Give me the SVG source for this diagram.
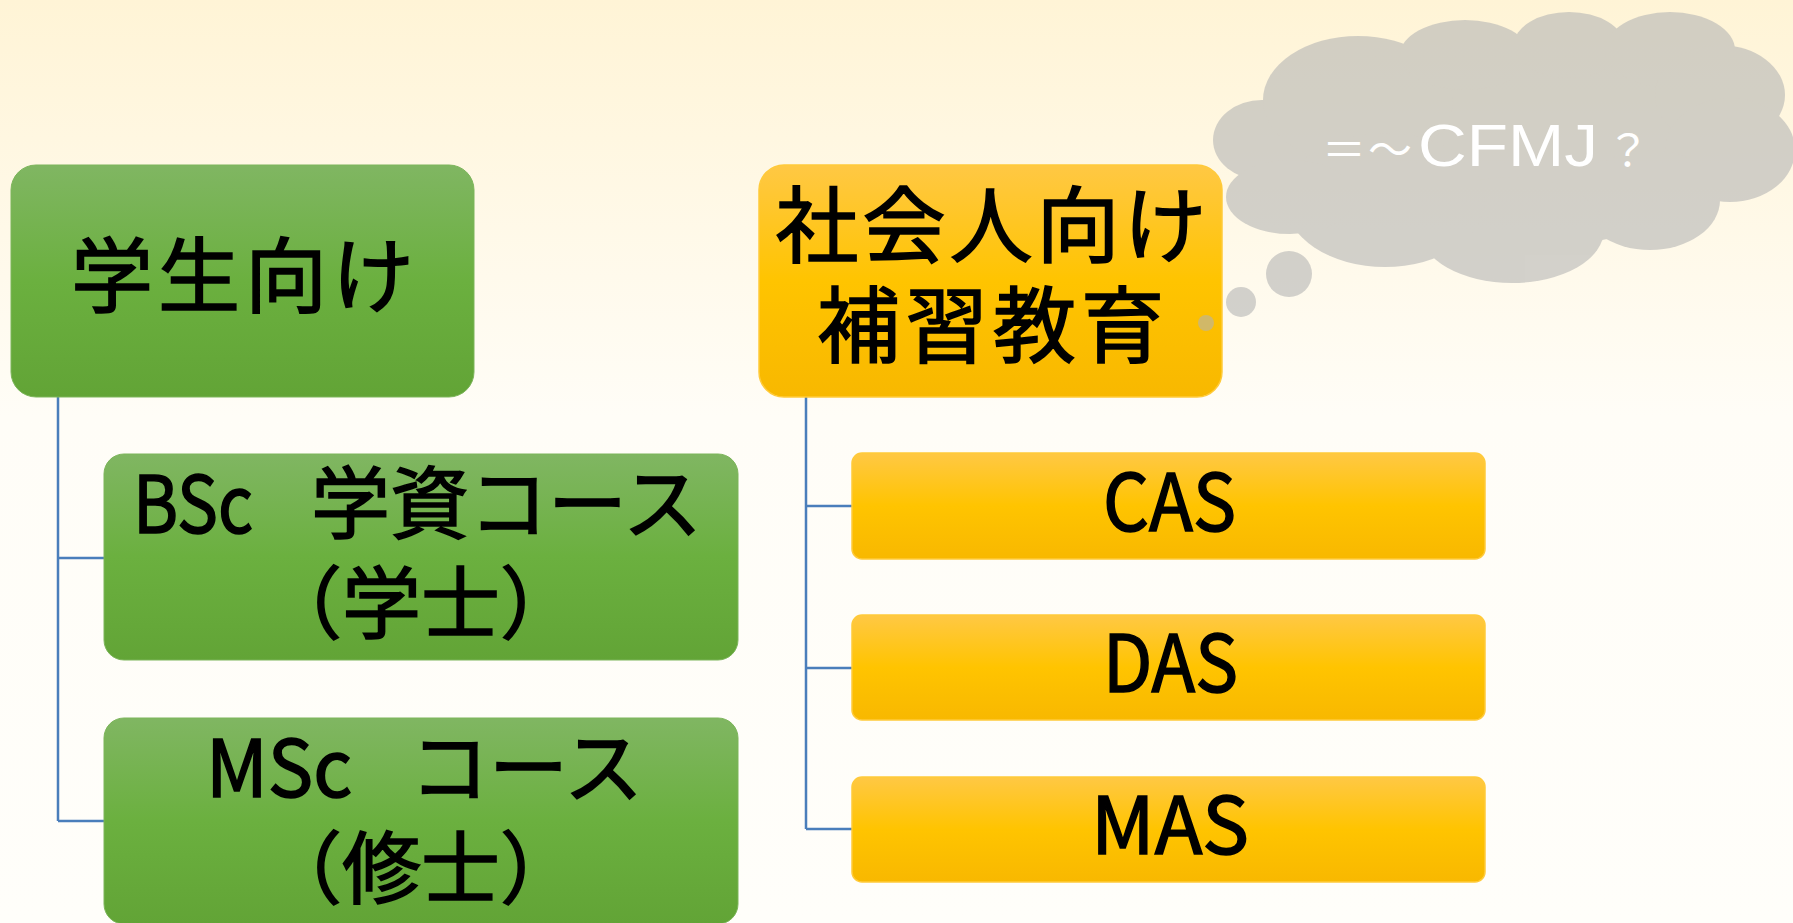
<svg xmlns="http://www.w3.org/2000/svg" width="1793" height="923" viewBox="0 0 1793 923">
<defs>
<linearGradient id="bg" x1="0" y1="0" x2="0" y2="1">
<stop offset="0" stop-color="#fff4d6"/>
<stop offset="0.45" stop-color="#fffdf7"/>
<stop offset="1" stop-color="#fffefa"/>
</linearGradient>
<linearGradient id="gGreen" x1="0" y1="0" x2="0" y2="1">
<stop offset="0" stop-color="#80b662"/>
<stop offset="0.5" stop-color="#6bb03f"/>
<stop offset="1" stop-color="#62a436"/>
</linearGradient>
<linearGradient id="gYellow" x1="0" y1="0" x2="0" y2="1">
<stop offset="0" stop-color="#ffc844"/>
<stop offset="0.5" stop-color="#ffc400"/>
<stop offset="1" stop-color="#f8b800"/>
</linearGradient>
<style>
.green{fill:url(#gGreen);stroke:#7cb55a;stroke-width:1}
.yellow{fill:url(#gYellow);stroke:#ffca3a;stroke-width:1.5}
.lbl{font-family:"Noto Sans CJK JP","Noto Sans",sans-serif;fill:#000;stroke:#000;stroke-width:1.6;text-anchor:middle}
.st{text-anchor:start}
.conn{fill:none;stroke:#4a7ebb;stroke-width:2.5}
.cloud{fill:#b3b3b3}
.ctext{fill:#fff;font-family:"Liberation Sans","Noto Sans CJK JP",sans-serif}
</style>
</defs>
<rect x="0" y="0" width="1793" height="923" fill="url(#bg)"/>

<g id="connectors">
<path class="conn" d="M58 397 V821 M58 558 H104 M58 821 H104"/>
<path class="conn" d="M806 397 V829 M806 506 H852 M806 668 H852 M806 829 H852"/>
</g>

<g id="node-students">
<rect class="green" x="11" y="165" width="463" height="232" rx="25"/>
<text class="lbl" x="245" y="306" font-size="82" letter-spacing="5">学生向け</text>
</g>

<g id="node-bsc">
<rect class="green" x="104" y="454" width="634" height="206" rx="20"/>
<text class="lbl st" x="133" y="533" font-size="79" textLength="120" lengthAdjust="spacingAndGlyphs">BSc</text>
<text class="lbl" font-size="79"><tspan x="311" y="533" text-anchor="start">学資コース</tspan><tspan x="421" y="633" text-anchor="middle">（学士）</tspan></text>
</g>

<g id="node-msc">
<rect class="green" x="104" y="718" width="634" height="206" rx="20"/>
<text class="lbl st" x="206" y="797" font-size="79" textLength="146" lengthAdjust="spacingAndGlyphs">MSc</text>
<text class="lbl" font-size="79"><tspan x="410" y="797" text-anchor="start">コース</tspan><tspan x="421" y="898" text-anchor="middle">（修士）</tspan></text>
</g>

<g id="node-adult">
<rect class="yellow" x="759" y="165" width="463" height="232" rx="25"/>
<text class="lbl" font-size="83"><tspan x="993" y="256" letter-spacing="4">社会人向け</tspan><tspan x="993" y="356" letter-spacing="5">補習教育</tspan></text>
</g>

<g id="node-cas">
<rect class="yellow" x="852" y="453" width="633" height="106" rx="10"/>
<text class="lbl" x="1169.5" y="531" font-size="79" textLength="133" lengthAdjust="spacingAndGlyphs">CAS</text>
</g>

<g id="node-das">
<rect class="yellow" x="852" y="615" width="633" height="105" rx="10"/>
<text class="lbl" x="1170.5" y="692" font-size="79" textLength="135" lengthAdjust="spacingAndGlyphs">DAS</text>
</g>

<g id="node-mas">
<rect class="yellow" x="852" y="777" width="633" height="105" rx="10"/>
<text class="lbl" x="1170" y="854" font-size="79" textLength="158" lengthAdjust="spacingAndGlyphs">MAS</text>
</g>

<g id="cloud-callout">
<g opacity="0.58" class="cloud">
<ellipse cx="1500" cy="150" rx="235" ry="100"/>
<ellipse cx="1262" cy="140" rx="49" ry="40"/>
<ellipse cx="1358" cy="100" rx="95" ry="64"/>
<ellipse cx="1465" cy="55" rx="65" ry="35"/>
<ellipse cx="1569" cy="45" rx="55" ry="33"/>
<ellipse cx="1670" cy="50" rx="65" ry="38"/>
<ellipse cx="1720" cy="95" rx="65" ry="50"/>
<ellipse cx="1730" cy="150" rx="65" ry="52"/>
<ellipse cx="1650" cy="200" rx="70" ry="50"/>
<ellipse cx="1512" cy="230" rx="92" ry="53"/>
<ellipse cx="1385" cy="200" rx="100" ry="67"/>
<ellipse cx="1290" cy="197" rx="64" ry="37"/>
<circle cx="1289" cy="274" r="23"/>
<circle cx="1241" cy="302" r="15"/>
<circle cx="1206" cy="323" r="8"/>
</g>
<text class="ctext" y="166"><tspan x="1322" font-size="44" font-family="Noto Sans CJK JP">＝</tspan><tspan x="1368" font-size="44" font-family="Noto Sans CJK JP">～</tspan></text>
<text class="ctext" x="1418" y="166" font-size="60" textLength="180" lengthAdjust="spacingAndGlyphs">CFMJ</text>
<text class="ctext" x="1606" y="167" font-size="44" font-family="Noto Sans CJK JP">？</text>
</g>
</svg>
